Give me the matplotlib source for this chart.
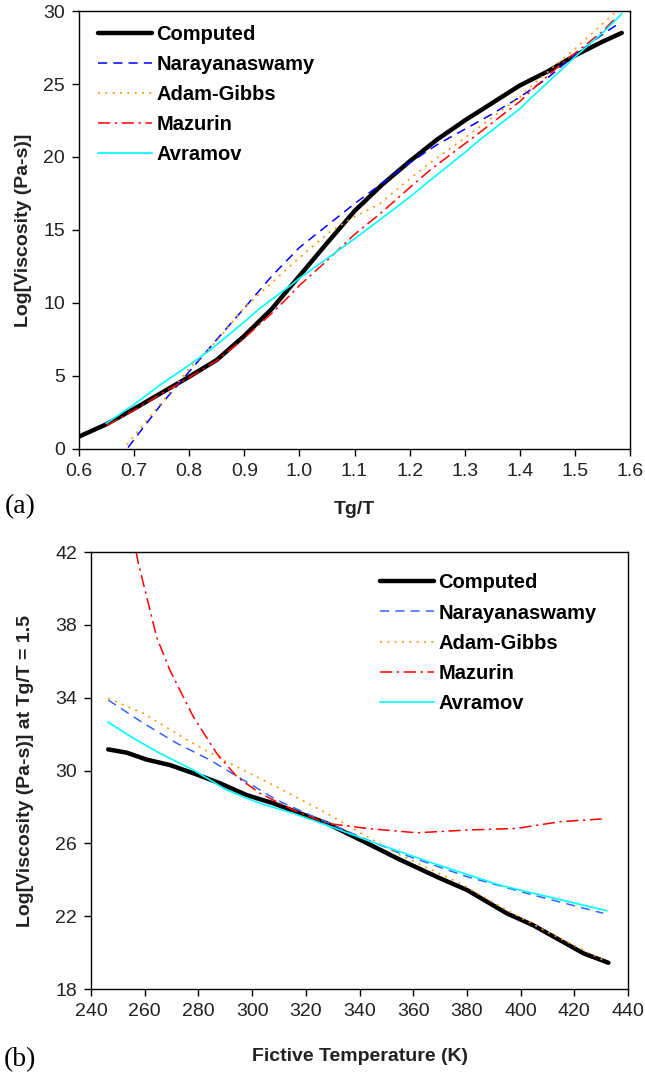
import matplotlib
matplotlib.use("Agg")
import matplotlib.pyplot as plt

plt.rcParams['font.family'] = ['Liberation Sans', 'DejaVu Sans']

# (a) Log viscosity vs Tg/T
comp_x = [0.60, 0.65, 0.70, 0.75, 0.80, 0.85, 0.90, 0.95, 1.00, 1.05, 1.10, 1.15, 1.20, 1.25, 1.30, 1.35, 1.40, 1.45, 1.50, 1.55, 1.585]
comp_y = [0.85, 1.7, 2.75, 3.85, 4.95, 6.1, 7.75, 9.6, 11.85, 14.1, 16.3, 18.1, 19.7, 21.2, 22.5, 23.7, 24.9, 25.85, 26.95, 27.9, 28.5]

nara_x = [0.689, 0.70, 0.75, 0.80, 0.85, 0.90, 0.95, 1.00, 1.05, 1.10, 1.15, 1.20, 1.25, 1.30, 1.35, 1.40, 1.45, 1.50, 1.55, 1.582]
nara_y = [0.1, 0.65, 3.1, 5.3, 7.5, 9.65, 11.85, 13.8, 15.3, 16.8, 18.2, 19.6, 20.85, 21.9, 22.95, 24.1, 25.4, 27.0, 28.4, 29.2]

adam_x = [0.687, 0.70, 0.75, 0.80, 0.85, 0.898, 0.95, 1.00, 1.056, 1.10, 1.146, 1.20, 1.237, 1.30, 1.328, 1.40, 1.419, 1.479, 1.50, 1.57, 1.58]
adam_y = [0.3, 0.9, 3.2, 5.5, 7.4, 9.6, 11.4, 13.1, 14.9, 15.9, 16.8, 18.5, 19.6, 21.3, 22.1, 24.1, 24.8, 26.75, 27.4, 29.8, 30.0]

mazu_x = [0.65, 0.70, 0.75, 0.80, 0.85, 0.90, 0.95, 0.977, 1.00, 1.05, 1.10, 1.146, 1.20, 1.237, 1.30, 1.328, 1.40, 1.419, 1.479, 1.50, 1.55, 1.576]
mazu_y = [1.6, 2.65, 3.8, 4.9, 6.05, 7.6, 9.3, 10.3, 11.2, 12.9, 14.7, 16.1, 17.9, 19.1, 20.9, 21.7, 23.8, 24.5, 26.5, 27.1, 28.6, 29.6]

avra_x = [0.65, 0.70, 0.747, 0.80, 0.838, 0.90, 0.928, 0.989, 1.00, 1.056, 1.10, 1.146, 1.20, 1.237, 1.30, 1.328, 1.40, 1.419, 1.479, 1.50, 1.55, 1.585]
avra_y = [1.76, 3.05, 4.38, 5.75, 6.78, 8.7, 9.63, 11.35, 11.7, 13.2, 14.4, 15.7, 17.25, 18.4, 20.3, 21.2, 23.3, 24.0, 26.1, 26.85, 28.5, 29.8]

# (b) Log viscosity at Tg/T = 1.5 vs fictive temperature
b_comp_t = [246.4, 253.3, 260.7, 269.4, 278.1, 288.0, 298.0, 307.9, 317.8, 327.8, 340.2, 355.1, 370.0, 380.0, 394.8, 404.7, 423.4, 432.7]
b_comp_y = [31.16, 30.98, 30.6, 30.3, 29.85, 29.3, 28.65, 28.2, 27.65, 27.1, 26.2, 25.1, 24.08, 23.44, 22.16, 21.5, 19.96, 19.44]

b_nara_t = [246.4, 259.5, 271.9, 284.3, 296.7, 309.2, 321.6, 340.2, 355.1, 380.0, 404.7, 430.8]
b_nara_y = [33.87, 32.6, 31.5, 30.58, 29.48, 28.38, 27.55, 26.36, 25.45, 24.17, 23.16, 22.16]

b_adam_t = [246.4, 259.5, 277.5, 290.5, 309.2, 327.8, 336.5, 355.1, 377.5, 394.8, 410.9, 432.0]
b_adam_y = [33.96, 33.14, 31.53, 30.48, 29.1, 27.65, 26.9, 25.36, 23.8, 22.34, 21.06, 19.5]

b_mazu_t = [256.8, 257.6, 264.5, 269.4, 278.1, 286.8, 294.3, 302.9, 315.3, 327.8, 342.7, 361.3, 380.0, 398.5, 414.7, 430.2]
b_mazu_y = [42.0, 41.4, 37.3, 35.5, 32.95, 30.94, 29.66, 28.75, 27.83, 27.1, 26.82, 26.58, 26.73, 26.82, 27.19, 27.34]

b_avra_t = [246.4, 255.8, 265.7, 278.1, 290.5, 302.9, 315.3, 327.8, 342.7, 367.5, 392.3, 432.0]
b_avra_y = [32.65, 31.77, 30.94, 30.03, 28.93, 28.2, 27.65, 27.0, 26.18, 24.9, 23.7, 22.3]

labels = ['Computed', 'Narayanaswamy', 'Adam-Gibbs', 'Mazurin', 'Avramov']
top_ticks_x = [0.6, 0.7, 0.8, 0.9, 1.0, 1.1, 1.2, 1.3, 1.4, 1.5, 1.6]
top_ticks_y = [0, 5, 10, 15, 20, 25, 30]
bot_ticks_x = [240, 260, 280, 300, 320, 340, 360, 380, 400, 420, 440]
bot_ticks_y = [18, 22, 26, 30, 34, 38, 42]

fig = plt.figure(figsize=(6.45, 10.79), dpi=100)
ax1 = fig.add_axes([0.1225, 0.5839, 0.8543, 0.4059])
ax2 = fig.add_axes([0.1411, 0.0834, 0.8326, 0.4050])

leg_kw = dict(loc='upper left', frameon=False, borderpad=0, borderaxespad=0,
              handlelength=2.7, handletextpad=0.2, labelspacing=0.55,
              prop={'size': 14.5, 'weight': 'bold'})


def draw(ax, series, nara_color):
    (cx, cy), (nx, ny), (ax_, ay), (mx, my), (vx, vy) = series
    ax.plot(cx, cy, color='black', lw=3.2, label=labels[0], solid_capstyle='round')
    ax.plot(nx, ny, color=nara_color, lw=1.1, dashes=(6, 4), label=labels[1])
    ax.plot(ax_, ay, color='#FF9900', lw=1.2, dashes=(1.2, 3.2), label=labels[2])
    ax.plot(mx, my, color='#FF0000', lw=1.1, dashes=(8, 3, 1.5, 3), label=labels[3])
    ax.plot(vx, vy, color='#00FFFF', lw=1.2, label=labels[4])
    for s in ax.spines.values():
        s.set_linewidth(1.0)
        s.set_color('black')
    ax.tick_params(direction='out', length=5, width=1.0, labelsize=14,
                   labelcolor='#222222', pad=5)


draw(ax1, [(comp_x, comp_y), (nara_x, nara_y), (adam_x, adam_y),
           (mazu_x, mazu_y), (avra_x, avra_y)], '#0000FF')
ax1.set_xlim(0.6, 1.6)
ax1.set_ylim(0, 30)
ax1.set_xticks(top_ticks_x)
ax1.set_xticklabels(['%.1f' % v for v in top_ticks_x])
ax1.set_yticks(top_ticks_y)
ax1.set_xlabel('Tg/T', fontsize=14, fontweight='bold', color='#222222')
ax1.set_ylabel('Log[Viscosity (Pa-s)]', fontsize=14, fontweight='bold', color='#222222')
ax1.xaxis.set_label_coords(0.5, -0.119)
ax1.yaxis.set_label_coords(-0.086, 0.5)
ax1.legend(bbox_to_anchor=(0.0345, 0.968), **leg_kw)

draw(ax2, [(b_comp_t, b_comp_y), (b_nara_t, b_nara_y), (b_adam_t, b_adam_y),
           (b_mazu_t, b_mazu_y), (b_avra_t, b_avra_y)], '#3366FF')
ax2.set_xlim(240, 440)
ax2.set_ylim(18, 42)
ax2.set_xticks(bot_ticks_x)
ax2.set_yticks(bot_ticks_y)
ax2.set_xlabel('Fictive Temperature (K)', fontsize=14, fontweight='bold', color='#222222')
ax2.set_ylabel('Log[Viscosity (Pa-s)] at Tg/T = 1.5', fontsize=14, fontweight='bold', color='#222222')
ax2.xaxis.set_label_coords(0.5, -0.135)
ax2.yaxis.set_label_coords(-0.107, 0.5)
ax2.legend(bbox_to_anchor=(0.538, 0.951), **leg_kw)

fig.text(0.008, 1 - 507 / 1079, '(a)', family='Liberation Serif', fontsize=20, va='center')
fig.text(0.006, 1 - 1060 / 1079, '(b)', family='Liberation Serif', fontsize=20, va='center')

fig.savefig('out.png', dpi=100)
